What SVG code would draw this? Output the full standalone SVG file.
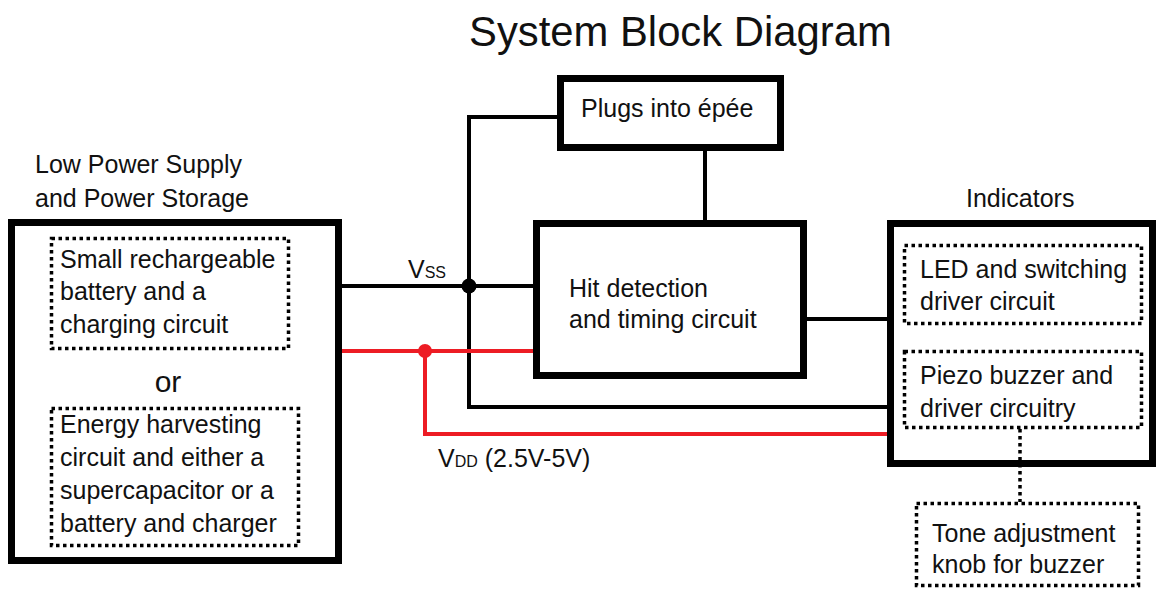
<svg xmlns="http://www.w3.org/2000/svg" width="1158" height="590" viewBox="0 0 1158 590">
<style>
text{font-family:"Liberation Sans",Arial,sans-serif;font-size:25px;fill:#111}
.box{fill:none;stroke:#000;stroke-width:7}
.dot{fill:none;stroke:#000;stroke-width:3.5;stroke-dasharray:3.5 3.5}
.w{fill:none;stroke:#000;stroke-width:4}
.r{fill:none;stroke:#ED1C24;stroke-width:4}
.sub{font-size:16px}
</style>
<rect width="1158" height="590" fill="#fff"/>
<text x="469" y="46" style="font-size:41.8px">System Block Diagram</text>
<g id="connectors">
<path class="w" d="M342 286H533"/>
<path class="w" d="M557 117H469V407H887"/>
<path class="w" d="M705 151V220"/>
<path class="w" d="M807 319H887"/>
<path class="r" d="M342 351H536"/>
<path class="r" d="M425 351V434H887"/>
<circle cx="469" cy="286" r="7.5" fill="#000"/>
<circle cx="425" cy="351" r="7" fill="#ED1C24"/>
<path class="dot" d="M1020 429V502"/>
<text x="408" y="278">V<tspan class="sub">SS</tspan></text>
<text x="438" y="467">V<tspan class="sub">DD</tspan> (2.5V-5V)</text>
</g>
<g id="power">
<text x="35" y="173">Low Power Supply</text>
<text x="35" y="207">and Power Storage</text>
<rect class="box" x="11.5" y="222.5" width="327" height="338"/>
<g id="battery">
<rect class="dot" x="51.5" y="238.5" width="237" height="110"/>
<text x="60" y="268">Small rechargeable</text>
<text x="60" y="300">battery and a</text>
<text x="60" y="333">charging circuit</text>
</g>
<text x="168" y="392" text-anchor="middle" style="font-size:30px">or</text>
<g id="harvest">
<rect class="dot" x="51.5" y="408.5" width="247" height="137"/>
<text x="60" y="433">Energy harvesting</text>
<text x="60" y="466">circuit and either a</text>
<text x="60" y="499">supercapacitor or a</text>
<text x="60" y="532">battery and charger</text>
</g>
</g>
<g id="plugs">
<rect class="box" x="560.5" y="78.5" width="220" height="69"/>
<text x="581" y="117">Plugs into épée</text>
</g>
<g id="hit">
<rect class="box" x="536.5" y="223.5" width="267" height="152"/>
<text x="569" y="297">Hit detection</text>
<text x="569" y="328">and timing circuit</text>
</g>
<g id="indicators">
<text x="966" y="207">Indicators</text>
<rect class="box" x="890.5" y="223.5" width="262" height="240"/>
<g id="led">
<rect class="dot" x="904.5" y="245.5" width="237" height="78"/>
<text x="920" y="278">LED and switching</text>
<text x="920" y="310">driver circuit</text>
</g>
<g id="piezo">
<rect class="dot" x="904.5" y="351.5" width="237" height="76"/>
<text x="920" y="384">Piezo buzzer and</text>
<text x="920" y="417">driver circuitry</text>
</g>
</g>
<g id="tone">
<rect class="dot" x="916.5" y="503.5" width="222" height="82"/>
<text x="932" y="542">Tone adjustment</text>
<text x="932" y="573">knob for buzzer</text>
</g>
</svg>
